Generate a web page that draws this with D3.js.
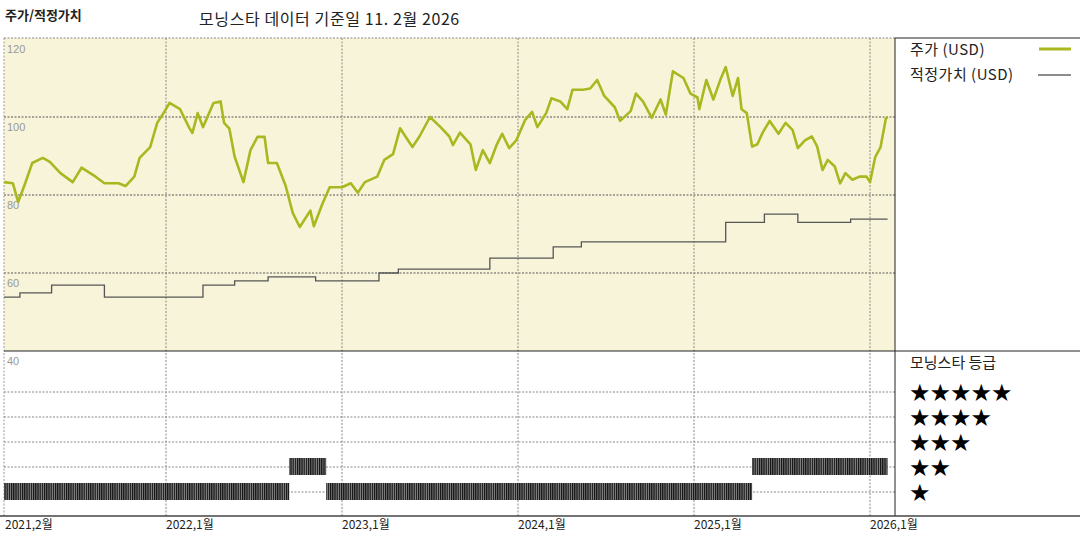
<!DOCTYPE html>
<html><head><meta charset="utf-8">
<script src="https://cdn.jsdelivr.net/npm/d3@7"></script>
<style>body{margin:0;background:#fff}svg{display:block;font-family:"Noto Sans CJK KR",sans-serif}</style>
</head><body><svg id="c" width="1080" height="540"></svg>
<script>
const priceYears=[2021.08,2021.13,2021.16,2021.20,2021.24,2021.30,2021.34,2021.40,2021.47,2021.52,2021.60,2021.65,2021.73,2021.77,2021.82,2021.85,2021.91,2021.95,2021.99,2022.02,2022.08,2022.13,2022.15,2022.18,2022.21,2022.27,2022.31,2022.33,2022.36,2022.39,2022.44,2022.48,2022.52,2022.56,2022.58,2022.63,2022.68,2022.72,2022.76,2022.82,2022.84,2022.89,2022.93,2023.00,2023.05,2023.09,2023.13,2023.20,2023.24,2023.29,2023.33,2023.40,2023.44,2023.50,2023.56,2023.61,2023.63,2023.67,2023.73,2023.76,2023.80,2023.84,2023.88,2023.91,2023.95,2023.99,2024.04,2024.08,2024.11,2024.16,2024.19,2024.24,2024.28,2024.31,2024.37,2024.41,2024.45,2024.49,2024.55,2024.58,2024.64,2024.67,2024.71,2024.76,2024.81,2024.84,2024.88,2024.94,2024.98,2025.02,2025.03,2025.07,2025.11,2025.15,2025.18,2025.22,2025.25,2025.27,2025.30,2025.33,2025.36,2025.39,2025.43,2025.48,2025.52,2025.56,2025.59,2025.63,2025.67,2025.70,2025.73,2025.76,2025.80,2025.83,2025.86,2025.90,2025.94,2025.98,2026.00,2026.03,2026.06,2026.09,2026.10];
const priceValues=[83.3,83,78.2,83,88.2,89.5,88.5,85.6,83.3,87,84.7,83,83,82.3,84.7,89.5,92.3,98.5,101.3,103.6,102,97.4,95.9,101,97.4,103.6,104,98.5,97,89.8,83.3,91.5,94.9,94.9,88.2,88.2,82.3,75.4,71.8,76,72,77.9,82,82,83,80.6,83.3,84.7,89,90.5,97.1,92.3,95,100,97.4,95,92.8,96,93,86.4,91.5,88.2,93,95.7,92,94,99.2,101.3,97.4,101,104.8,104,102,107,107,107.3,109.5,105.4,102.5,99,101.5,106,104,99.8,104.5,100.6,111.7,110,106,105,102,109.5,104.5,109.6,112.8,105.4,110,102,101,92.4,93,96,99,95.7,98.5,96.7,92,94,95,92.4,86.4,89,87.3,83,85.6,83.9,84.7,84.7,83.3,89.8,92.3,99.6,100];
const fairStart=[2021.08,2021.17,2021.35,2021.65,2022.21,2022.39,2022.58,2022.85,2023.21,2023.32,2023.84,2024.20,2024.36,2025.18,2025.40,2025.59,2025.89];
const fairValues=[53.8,54.9,56.9,53.8,56.9,58,59,58,60,61,63.8,66.7,68,73,75.1,73,73.8];
const fairEnd=2026.10;
const ratingStart=[2021.08,2022.70,2022.91,2025.33];
const ratingEnd=[2022.70,2022.91,2025.33,2026.10];
const ratingValues=[1,2,1,2];
const tickYears=[2021.08,2022.0,2023.0,2024.0,2025.0,2026.0];
const tickLabels=["2021,2월","2022,1월","2023,1월","2024,1월","2025,1월","2026,1월"];
const yTicks=[120,100,80,60,40];
const starLabels=["★★★★★","★★★★","★★★","★★","★"];

const svg=d3.select("#c");
const L=4,R=895,T=38,M=351,B=516;
const x=d3.scaleLinear().domain([2021.0795,2026.142]).range([L,R]);
const y=d3.scaleLinear().domain([40,120]).range([M,T+1]);
const yr=d3.scaleLinear().domain([1,5]).range([492,392]);
const green="#a9b820";

svg.append("rect").attr("x",L).attr("y",T).attr("width",R-L).attr("height",M-T).attr("fill","#f8f4d9");
svg.selectAll(".hg").data([100,80,60]).enter().append("line").attr("x1",L).attr("x2",R).attr("y1",d=>y(d)).attr("y2",d=>y(d)).attr("stroke","#555").attr("stroke-dasharray","2,1.5").attr("stroke-width",1);
svg.selectAll(".rg").data([1,2,3,4,5]).enter().append("line").attr("x1",L).attr("x2",R).attr("y1",d=>yr(d)).attr("y2",d=>yr(d)).attr("stroke","#888").attr("stroke-dasharray","2,1.5");
svg.selectAll(".vg").data(tickYears.slice(1)).enter().append("line").attr("x1",d=>x(d)).attr("x2",d=>x(d)).attr("y1",T).attr("y2",B).attr("stroke","#888").attr("stroke-dasharray","2,1.5");
svg.append("line").attr("x1",L).attr("x2",L).attr("y1",T).attr("y2",B).attr("stroke","#999").attr("stroke-dasharray","2,1.5");
svg.append("line").attr("x1",L).attr("x2",R).attr("y1",T).attr("y2",T).attr("stroke","#888").attr("stroke-dasharray","2,1.5");
svg.selectAll(".yl").data(yTicks).enter().append("text").attr("x",L+3).attr("y",d=>y(d)+14).attr("font-size",11).attr("fill","#999").attr("font-family","Liberation Sans Narrow, Arial").text(d=>d);
const fairPts=[];fairStart.forEach((s,i)=>{fairPts.push([s,fairValues[i]]);});fairPts.push([fairEnd,fairValues[fairValues.length-1]]);
svg.append("path").attr("d",d3.line().x(d=>x(d[0])).y(d=>y(d[1])).curve(d3.curveStepAfter)(fairPts)).attr("fill","none").attr("stroke","#555").attr("stroke-width",1.3);
svg.append("path").attr("d",d3.line().x((d,i)=>x(priceYears[i])).y(d=>y(d))(priceValues)).attr("fill","none").attr("stroke",green).attr("stroke-width",2.6).attr("stroke-linejoin","round");
const defs=svg.append("defs");
const pat=defs.append("pattern").attr("id","hatch").attr("width",2.2).attr("height",10).attr("patternUnits","userSpaceOnUse");
pat.append("rect").attr("width",2.2).attr("height",10).attr("fill","#888");
pat.append("rect").attr("width",1.2).attr("height",10).attr("fill","#111");
svg.selectAll(".rb").data(ratingValues).enter().append("rect").attr("x",(d,i)=>x(ratingStart[i])).attr("width",(d,i)=>x(ratingEnd[i])-x(ratingStart[i])).attr("y",d=>yr(d)-9).attr("height",17).attr("fill","url(#hatch)");
svg.append("line").attr("x1",R).attr("x2",R).attr("y1",T).attr("y2",B).attr("stroke","#222");
svg.append("line").attr("x1",R).attr("x2",1080).attr("y1",T).attr("y2",T).attr("stroke","#222");
svg.append("line").attr("x1",L).attr("x2",1080).attr("y1",M).attr("y2",M).attr("stroke","#222");
svg.append("line").attr("x1",0).attr("x2",1080).attr("y1",B).attr("y2",B).attr("stroke","#444").attr("stroke-width",1.5);
svg.selectAll(".xl").data(tickYears).enter().append("text").attr("x",(d,i)=>i==0?5:x(d)).attr("y",B+13).attr("font-size",12).attr("fill","#222").text((d,i)=>tickLabels[i]);
svg.append("text").attr("x",5).attr("y",20).attr("font-size",13).attr("font-weight","bold").attr("fill","#222").text("주가/적정가치");
svg.append("text").attr("x",199).attr("y",25).attr("font-size",16).attr("fill","#222").attr("letter-spacing",0.6).text("모닝스타 데이터 기준일 11. 2월 2026");
svg.append("text").attr("x",910).attr("y",55).attr("font-size",15).attr("fill","#222").attr("letter-spacing",0.5).text("주가 (USD)");
svg.append("line").attr("x1",1039).attr("x2",1071).attr("y1",49).attr("y2",49).attr("stroke",green).attr("stroke-width",3);
svg.append("text").attr("x",910).attr("y",80).attr("font-size",15).attr("fill","#222").attr("letter-spacing",0.5).text("적정가치 (USD)");
svg.append("line").attr("x1",1038).attr("x2",1071).attr("y1",75).attr("y2",75).attr("stroke","#666").attr("stroke-width",1.3);
svg.append("text").attr("x",910).attr("y",368).attr("font-size",15).attr("fill","#222").text("모닝스타 등급");
svg.selectAll(".st").data(starLabels).enter().append("text").attr("x",909).attr("y",(d,i)=>yr(5-i)+9).attr("font-size",24).attr("fill","#000").attr("font-family","DejaVu Sans").attr("letter-spacing",-1).text(d=>d);
</script></body></html>
